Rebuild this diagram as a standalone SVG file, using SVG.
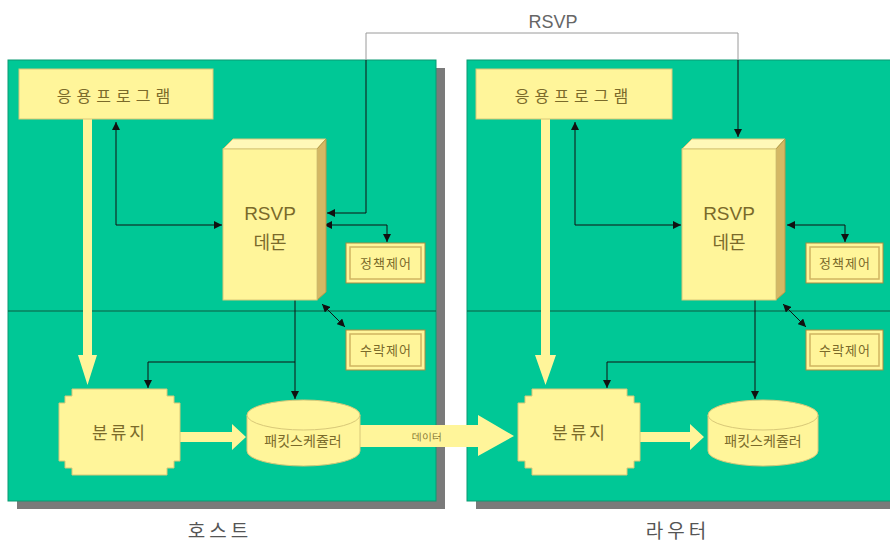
<svg xmlns="http://www.w3.org/2000/svg" width="890" height="542" viewBox="0 0 890 542">
<defs>
<style>
.panel{fill:#00C896;stroke:#0a9a72;stroke-width:1}
.shadow{fill:#7a7a7a}
.div{stroke:#0d5a40;stroke-width:1}
.yel{fill:#FFF59A;stroke:#d8c878;stroke-width:1}
.top{fill:#FFF8B8;stroke:#d8c878;stroke-width:1}
.side{fill:#D4B864;stroke:#b89a48;stroke-width:1}
.frame{fill:#FFF59A;stroke:#a88c40;stroke-width:1}
.inner{fill:none;stroke:#d0b460;stroke-width:1.5}
.kt{font-family:"Noto Sans CJK KR","Noto Sans",sans-serif;fill:#7a6a2a;text-anchor:middle}
.lt{font-family:"Liberation Sans",Arial,sans-serif;fill:#7a6a2a;text-anchor:middle}
.cap{font-family:"Noto Sans CJK KR","Noto Sans",sans-serif;fill:#555;text-anchor:middle}
.wire{fill:none;stroke:#111;stroke-width:1}
.gwire{fill:none;stroke:#9a9a9a;stroke-width:1}
.big{fill:#FFF59A;stroke:none}
</style>
<marker id="ah" viewBox="0 0 10 10" refX="10" refY="5" markerWidth="8" markerHeight="8" markerUnits="userSpaceOnUse" orient="auto-start-reverse">
<path d="M0,0 L10,5 L0,10 z" fill="#111"/>
</marker>
</defs>

<g id="panels">
<rect class="shadow" x="17" y="68" width="428" height="441"/>
<rect class="panel" x="8" y="60" width="428" height="441"/>
<line class="div" x1="8" y1="311" x2="436" y2="311"/>
<rect class="shadow" x="476" y="68" width="430" height="441"/>
<rect class="panel" x="467" y="60" width="430" height="441"/>
<line class="div" x1="467" y1="311" x2="890" y2="311"/>
</g>

<g id="connectors">
<!-- thick yellow arrows -->
<polygon class="big" points="83,119 92,119 92,355 97,355 87.5,385 78,355 83,355"/>
<polygon class="big" points="541,119 550,119 550,355 556,355 545.5,385 535,355 541,355"/>
<polygon class="big" points="180,432 232,432 232,424 246,437 232,450 232,442 180,442"/>
<polygon class="big" points="640,432 690,432 690,424 704,437 690,450 690,442 640,442"/>
<polygon class="big" points="358,425 478,425 478,415 514,436 478,456 478,447 358,447"/>
<!-- RSVP link -->
<polyline class="gwire" points="366,33 738,33"/>
<polyline class="gwire" points="366,33 366,60"/>
<polyline class="wire" points="366,60 366,213 327,213" marker-end="url(#ah)"/>
<polyline class="gwire" points="738,33 738,60"/>
<polyline class="wire" points="738,60 738,137" marker-end="url(#ah)"/>
<!-- left host -->
<polyline class="wire" points="116,122 116,225 222,225" marker-start="url(#ah)" marker-end="url(#ah)"/>
<polyline class="wire" points="324,225 387,225 387,242" marker-start="url(#ah)" marker-end="url(#ah)"/>
<line class="wire" x1="322" y1="304" x2="345" y2="327" marker-start="url(#ah)" marker-end="url(#ah)"/>
<polyline class="wire" points="295,300 295,399" marker-end="url(#ah)"/>
<polyline class="wire" points="295,362 148,362 148,388" marker-end="url(#ah)"/>
<!-- right router -->
<polyline class="wire" points="575,122 575,225 681,225" marker-start="url(#ah)" marker-end="url(#ah)"/>
<polyline class="wire" points="787,225 845,225 845,242" marker-start="url(#ah)" marker-end="url(#ah)"/>
<line class="wire" x1="783" y1="304" x2="806" y2="327" marker-start="url(#ah)" marker-end="url(#ah)"/>
<polyline class="wire" points="755,300 755,399" marker-end="url(#ah)"/>
<polyline class="wire" points="755,362 607,362 607,388" marker-end="url(#ah)"/>
</g>

<text class="lt" x="553" y="28" font-size="18" style="fill:#666">RSVP</text>
<text class="lt" x="427" y="440" font-size="10">데이터</text>

<g id="app-left">
<rect class="yel" x="19" y="69" width="194" height="50"/>
<text class="kt" x="116" y="102" font-size="16" letter-spacing="5">응용프로그램</text>
</g>
<g id="app-right">
<rect class="yel" x="476" y="69" width="196" height="50"/>
<text class="kt" x="574" y="102" font-size="16" letter-spacing="5">응용프로그램</text>
</g>

<g id="daemon-left">
<polygon class="top" points="223,149 233,139 326,139 317,149"/>
<polygon class="side" points="317,149 326,139 326,292 317,300"/>
<rect class="yel" x="223" y="149" width="94" height="151"/>
<text class="lt" x="270" y="220" font-size="19">RSVP</text>
<text class="kt" x="270" y="249" font-size="18">데몬</text>
</g>
<g id="daemon-right">
<polygon class="top" points="682,149 692,139 785,139 776,149"/>
<polygon class="side" points="776,149 785,139 785,292 776,300"/>
<rect class="yel" x="682" y="149" width="94" height="151"/>
<text class="lt" x="729" y="220" font-size="19">RSVP</text>
<text class="kt" x="729" y="249" font-size="18">데몬</text>
</g>

<g id="policy-left">
<rect class="frame" x="346" y="243" width="79" height="40"/>
<rect class="inner" x="350" y="247" width="71" height="32"/>
<text class="kt" x="386" y="268" font-size="13" letter-spacing="1">정책제어</text>
</g>
<g id="admission-left">
<rect class="frame" x="346" y="330" width="79" height="40"/>
<rect class="inner" x="350" y="334" width="71" height="32"/>
<text class="kt" x="386" y="355" font-size="13" letter-spacing="1">수락제어</text>
</g>
<g id="policy-right">
<rect class="frame" x="806" y="243" width="77" height="40"/>
<rect class="inner" x="810" y="247" width="69" height="32"/>
<text class="kt" x="845" y="268" font-size="13" letter-spacing="1">정책제어</text>
</g>
<g id="admission-right">
<rect class="frame" x="806" y="330" width="77" height="40"/>
<rect class="inner" x="810" y="334" width="69" height="32"/>
<text class="kt" x="845" y="355" font-size="13" letter-spacing="1">수락제어</text>
</g>

<g id="classifier-left">
<polygon class="yel" points="72,389 167,389 167,396 174,396 174,403 180,403 180,461 174,461 174,468 167,468 167,475 72,475 72,468 65,468 65,461 59,461 59,403 65,403 65,396 72,396"/>
<text class="kt" x="120" y="439" font-size="17" letter-spacing="3">분류지</text>
</g>
<g id="classifier-right">
<polygon class="yel" points="532,389 627,389 627,396 634,396 634,403 640,403 640,461 634,461 634,468 627,468 627,475 532,475 532,468 525,468 525,461 518,461 518,403 525,403 525,396 532,396"/>
<text class="kt" x="580" y="439" font-size="17" letter-spacing="3">분류지</text>
</g>

<g id="scheduler-left">
<path class="yel" d="M247,415 L247,451 A56.5,15 0 0 0 360,451 L360,415"/>
<ellipse class="yel" cx="303.5" cy="415" rx="56.5" ry="15"/>
<text class="kt" x="303" y="446" font-size="14">패킷스케쥴러</text>
</g>
<g id="scheduler-right">
<path class="yel" d="M708,415 L708,451 A55,15 0 0 0 818,451 L818,415"/>
<ellipse class="yel" cx="763" cy="415" rx="55" ry="15"/>
<text class="kt" x="763" y="446" font-size="14">패킷스케쥴러</text>
</g>

<text class="cap" x="220" y="538" font-size="19" letter-spacing="4">호스트</text>
<text class="cap" x="678" y="538" font-size="19" letter-spacing="4">라우터</text>
</svg>
